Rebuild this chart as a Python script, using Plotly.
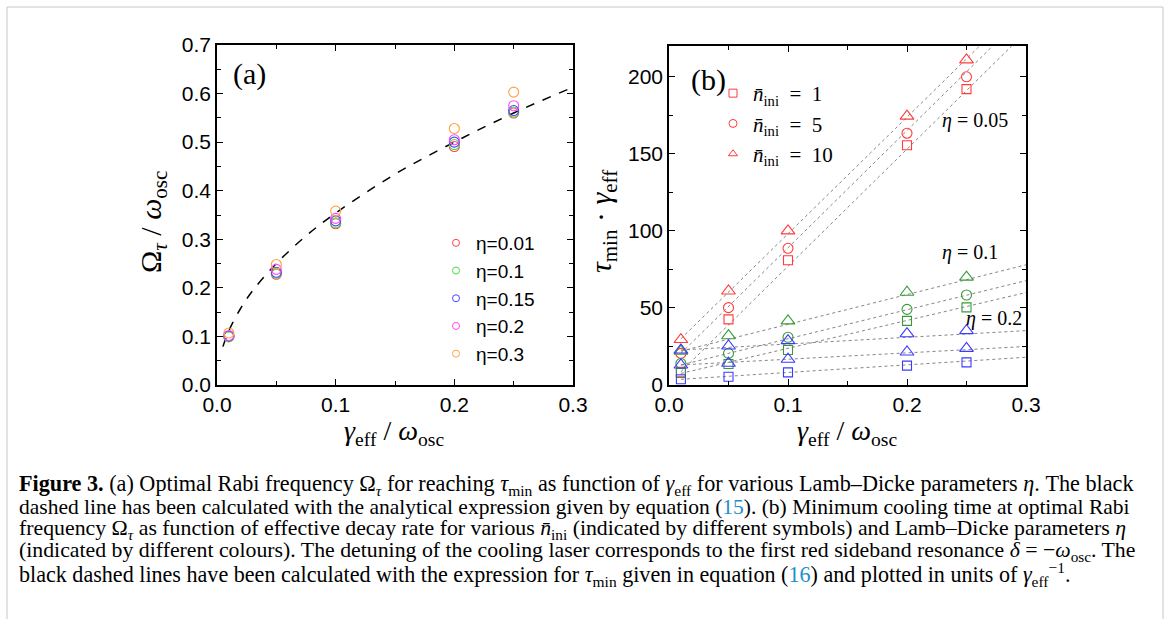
import plotly.graph_objects as go

W, H = 1167, 619

# ---------------- Panel (a) data ----------------
xa = [0.01, 0.05, 0.1, 0.2, 0.25]
eta_labels_a = ["η=0.01", "η=0.1", "η=0.15", "η=0.2", "η=0.3"]
omega_eta001 = [0.100, 0.228, 0.332, 0.491, 0.560]
omega_eta01 = [0.099, 0.230, 0.334, 0.495, 0.562]
omega_eta015 = [0.101, 0.232, 0.338, 0.500, 0.565]
omega_eta02 = [0.102, 0.238, 0.343, 0.505, 0.575]
omega_eta03 = [0.107, 0.248, 0.358, 0.528, 0.603]
curve_x = [0.005, 0.01, 0.02, 0.03, 0.05, 0.075, 0.1, 0.15, 0.2, 0.25, 0.3]
curve_y = [0.079, 0.112, 0.158, 0.194, 0.250, 0.307, 0.354, 0.434, 0.500, 0.560, 0.613]
colors_a = ["#ff4545", "#45dd45", "#4545ff", "#ff45ff", "#ffa040"]

# ---------------- Panel (b) data ----------------
xb = [0.01, 0.05, 0.1, 0.2, 0.25]
red_n1 = [8.6, 42.6, 81.0, 155.6, 192.0]
red_n5 = [20.5, 50.2, 88.7, 163.4, 200.0]
red_n10 = [29.5, 61.0, 100.0, 174.5, 211.0]
green_n1 = [7.8, 13.6, 22.7, 41.6, 50.4]
green_n5 = [14.0, 20.5, 31.0, 49.1, 58.4]
green_n10 = [22.0, 32.0, 41.6, 60.2, 70.0]
blue_n1 = [3.7, 5.4, 8.2, 12.6, 14.7]
blue_n5 = [13.0, 14.1, 16.7, 21.4, 23.8]
blue_n10 = [22.7, 25.3, 28.8, 33.3, 35.3]

# theory lines (start / end points)
line_red_n1_x, line_red_n1_y = [0.01, 0.288], [8.6, 220]
line_red_n5_x, line_red_n5_y = [0.01, 0.272], [20.5, 220]
line_red_n10_x, line_red_n10_y = [0.01, 0.261], [30.0, 220]
line_x_full = [0.01, 0.3]
line_green_n1_y = [7.5, 60.0]
line_green_n5_y = [13.0, 67.7]
line_green_n10_y = [22.0, 78.0]
line_blue_n1_y = [3.7, 18.0]
line_blue_n5_y = [13.0, 25.0]
line_blue_n10_y = [22.7, 35.3]

SP = "\u2002"
legend_b_labels = ["<i>n̄</i><sub>ini</sub>" + SP + "=" + SP + "1",
                   "<i>n̄</i><sub>ini</sub>" + SP + "=" + SP + "5",
                   "<i>n̄</i><sub>ini</sub>" + SP + "=" + SP + "10"]
c_red, c_green, c_blue = "#ff3b3b", "#3a9a3a", "#3b3bff"


def px(x):
    return x / W


def py(y):
    return 1 - y / H


fig = go.Figure()

# ---- panel (a) traces ----
fig.add_trace(go.Scatter(x=curve_x, y=curve_y, mode="lines", line=dict(color="black", width=1.5, dash="dash", shape="spline"),
                         xaxis="x", yaxis="y", showlegend=False, hoverinfo="skip"))
for ys, col, lab in zip([omega_eta001, omega_eta01, omega_eta015, omega_eta02, omega_eta03], colors_a, eta_labels_a):
    fig.add_trace(go.Scatter(x=xa, y=ys, mode="markers", xaxis="x", yaxis="y", showlegend=False,
                             marker=dict(symbol="circle-open", size=10, color=col, line=dict(width=1.1, color=col))))
for col, lab in zip(colors_a, eta_labels_a):
    fig.add_trace(go.Scatter(x=[None], y=[None], mode="markers", xaxis="x", yaxis="y", name=lab, legend="legend",
                             marker=dict(symbol="circle-open", size=7, color=col, line=dict(width=1, color=col))))

# ---- panel (b) theory lines ----
lstyle = dict(color="#777777", width=0.9, dash="dot")
for lx, ly in [(line_red_n1_x, line_red_n1_y), (line_red_n5_x, line_red_n5_y), (line_red_n10_x, line_red_n10_y),
               (line_x_full, line_green_n1_y), (line_x_full, line_green_n5_y), (line_x_full, line_green_n10_y),
               (line_x_full, line_blue_n1_y), (line_x_full, line_blue_n5_y), (line_x_full, line_blue_n10_y)]:
    fig.add_trace(go.Scatter(x=lx, y=ly, mode="lines", line=lstyle, xaxis="x2", yaxis="y2", showlegend=False, hoverinfo="skip"))

# ---- panel (b) markers ----
sym_sq, sym_ci, sym_tr = "square-open", "circle-open", "triangle-up-open"
series_b = [
    (red_n1, c_red, sym_sq, 9), (red_n5, c_red, sym_ci, 10), (red_n10, c_red, sym_tr, 12),
    (green_n1, c_green, sym_sq, 9), (green_n5, c_green, sym_ci, 10), (green_n10, c_green, sym_tr, 12),
    (blue_n1, c_blue, sym_sq, 9), (blue_n5, c_blue, sym_tr, 12), (blue_n10, c_blue, sym_tr, 12),
]
for ys, col, sym, sz in series_b:
    fig.add_trace(go.Scatter(x=xb, y=ys, mode="markers", xaxis="x2", yaxis="y2", showlegend=False,
                             marker=dict(symbol=sym, size=sz, color=col, line=dict(width=1.1, color=col))))
for lab, sym in zip(legend_b_labels, [sym_sq, sym_ci, sym_tr]):
    fig.add_trace(go.Scatter(x=[None], y=[None], mode="markers", xaxis="x2", yaxis="y2", name=lab, legend="legend2",
                             marker=dict(symbol=sym, size=8, color=c_red, line=dict(width=1, color=c_red))))

tickfont = dict(family="Liberation Sans, Arial, sans-serif", size=21, color="black")
axis_common = dict(showline=True, linecolor="black", linewidth=1.5, mirror="ticks", ticks="inside", ticklen=6,
                   tickwidth=1.3, tickcolor="black", showgrid=False, zeroline=False, tickfont=tickfont,
                   automargin=False)
minor_common = dict(ticks="inside", ticklen=4, tickcolor="black", tickwidth=1.2)

fig.update_layout(
    width=W, height=H, margin=dict(l=0, r=0, t=0, b=0, pad=0, autoexpand=False),
    paper_bgcolor="white", plot_bgcolor="white",
    xaxis=dict(domain=[px(217), px(573)], range=[0, 0.3], dtick=0.1, tickformat=".1f", anchor="y",
               minor=dict(dtick=0.05, **minor_common), **axis_common),
    yaxis=dict(domain=[py(385), py(45)], range=[0, 0.7], dtick=0.1, tickformat=".1f", anchor="x",
               minor=dict(dtick=0.05, **minor_common), **axis_common),
    xaxis2=dict(domain=[px(669), px(1026)], range=[0, 0.3], dtick=0.1, tickformat=".1f", anchor="y2",
                minor=dict(dtick=0.05, **minor_common), **axis_common),
    yaxis2=dict(domain=[py(385), py(46)], range=[0, 220], dtick=50, anchor="x2",
                minor=dict(dtick=25, **minor_common), **axis_common),
    legend=dict(x=px(436), y=py(224), xanchor="left", yanchor="top", bgcolor="rgba(0,0,0,0)",
                font=dict(family="Liberation Sans, Arial, sans-serif", size=19, color="black"), tracegroupgap=0),
    legend2=dict(x=px(713), y=py(73), xanchor="left", yanchor="top", bgcolor="rgba(0,0,0,0)",
                 font=dict(family="Liberation Serif, Times New Roman, serif", size=21, color="black"), tracegroupgap=0),
)

serif = "Liberation Serif, Times New Roman, serif"
ann = []


def add_text(x, y, text, size, family=serif, xanchor="center", yanchor="middle", textangle=0, color="black"):
    ann.append(dict(x=px(x), y=py(y), xref="paper", yref="paper", text=text, showarrow=False,
                    xanchor=xanchor, yanchor=yanchor, textangle=textangle,
                    font=dict(family=family, size=size, color=color)))


# panel labels
add_text(249, 74, "(a)", 30)
add_text(708, 80, "(b)", 30)
# axis titles
add_text(394, 432, "<i>γ</i><sub>eff</sub> / <i>ω</i><sub>osc</sub>", 28)
add_text(847, 432, "<i>γ</i><sub>eff</sub> / <i>ω</i><sub>osc</sub>", 28)
add_text(153, 222, "Ω<sub><i>τ</i></sub> / <i>ω</i><sub>osc</sub>", 30, textangle=-90)
add_text(603, 222, "<i>τ</i><sub>min</sub> · <i>γ</i><sub>eff</sub>", 30, textangle=-90)
# eta annotations panel (b)
add_text(975, 120, "<i>η</i> = 0.05", 20)
add_text(970, 253, "<i>η</i> = 0.1", 20)
add_text(994, 318, "<i>η</i> = 0.2", 20)

# caption (one annotation per printed line)
cap_sizes = [22.2, 21.5, 21.8, 21.8, 22.1]
blue_ref = "#1f8fc9"
cap_lines = [
    "<b>Figure 3.</b> (a) Optimal Rabi frequency Ω<sub><i>τ</i></sub> for reaching <i>τ</i><sub>min</sub> as function of <i>γ</i><sub>eff</sub> for various Lamb–Dicke parameters <i>η</i>. The black",
    "dashed line has been calculated with the analytical expression given by equation (<span style='color:%s'>15</span>). (b) Minimum cooling time at optimal Rabi" % blue_ref,
    "frequency Ω<sub><i>τ</i></sub> as function of effective decay rate for various <i>n̄</i><sub>ini</sub> (indicated by different symbols) and Lamb–Dicke parameters <i>η</i>",
    "(indicated by different colours). The detuning of the cooling laser corresponds to the first red sideband resonance <i>δ</i> = −<i>ω</i><sub>osc</sub>. The",
    "black dashed lines have been calculated with the expression for <i>τ</i><sub>min</sub> given in equation (<span style='color:%s'>16</span>) and plotted in units of <i>γ</i><sub>eff</sub><sup>−1</sup>." % blue_ref,
]
for i, (t, s) in enumerate(zip(cap_lines, cap_sizes)):
    add_text(17, 485 + 22.3 * i, t, s, xanchor="left")

fig.update_layout(annotations=ann)

# outer light-grey frame
fig.add_shape(type="rect", xref="paper", yref="paper", x0=px(7), x1=px(1163), y0=-0.05, y1=py(7),
              line=dict(color="#c8c8c8", width=1), layer="below")

fig.write_html("out.html", config={"displayModeBar": False})

# remove default page margins so the figure sits at the window's top-left corner
with open("out.html", "r", encoding="utf-8") as f:
    html = f.read()
html = html.replace("<head>", "<head><style>html,body{margin:0;padding:0;overflow:hidden;}</style>", 1)
with open("out.html", "w", encoding="utf-8") as f:
    f.write(html)
